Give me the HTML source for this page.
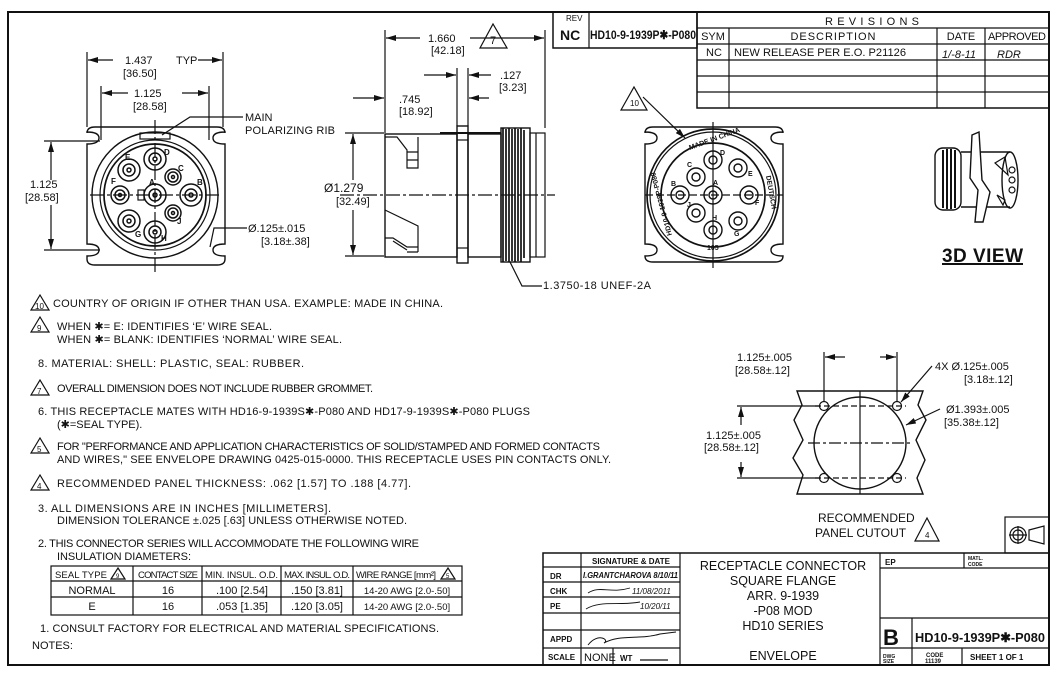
<!DOCTYPE html>
<html><head><meta charset="utf-8"><style>
html,body{margin:0;padding:0;background:#fff}
svg{display:block}
text{font-family:"Liberation Sans",sans-serif;fill:#111}
.t{font-size:11px}
.s{font-size:8px}
.b{font-weight:bold}
</style></head><body>
<svg width="1056" height="676" viewBox="0 0 1056 676" xmlns="http://www.w3.org/2000/svg">
<defs>
<marker id="ar" markerWidth="10" markerHeight="6" refX="10" refY="3" orient="auto" markerUnits="userSpaceOnUse"><path d="M0,0L10,3L0,6z" fill="#111"/></marker>
</defs>
<g fill="none" stroke="#111" stroke-width="1.2">
<rect x="8" y="12" width="1041" height="653" stroke-width="2"/>
<rect x="553" y="12" width="144" height="36" stroke-width="1.5"/>
<line x1="589" y1="12" x2="589" y2="48"/>
<rect x="697" y="12" width="352" height="96" stroke-width="1.5"/>
<line x1="697" y1="28" x2="1049" y2="28"/><line x1="697" y1="44" x2="1049" y2="44"/>
<line x1="697" y1="60" x2="1049" y2="60"/><line x1="697" y1="76" x2="1049" y2="76"/>
<line x1="697" y1="92" x2="1049" y2="92"/>
<line x1="729" y1="28" x2="729" y2="108"/><line x1="937" y1="28" x2="937" y2="108"/><line x1="985" y1="28" x2="985" y2="108"/>

<!-- LEFT FRONT VIEW -->
<path d="M95,127 H217 Q225,127 225,133 V132 Q213,132 213,138 Q213,144 225,144 V244 Q213,244 213,250 Q213,256 225,256 V259 Q225,265 217,265 H95 Q87,265 87,259 V256 Q99,256 99,250 Q99,244 87,244 V144 Q99,144 99,138 Q99,132 87,132 V133 Q87,127 95,127 Z" stroke-width="1.4"/>
<circle cx="155" cy="195" r="63" stroke-width="1.4"/>
<circle cx="155" cy="195" r="55"/>
<circle cx="155" cy="195" r="51" stroke-width="1.7"/>
<rect x="140" y="133" width="30" height="6"/>
<line x1="155" y1="120" x2="155" y2="272" stroke-dasharray="14,3,3,3"/>
<line x1="90" y1="195" x2="222" y2="195" stroke-dasharray="14,3,3,3"/>
<rect x="138" y="190" width="6" height="10"/>
<g stroke-width="1.5">
<circle cx="155" cy="159" r="11"/><circle cx="155" cy="159" r="6"/><circle cx="155" cy="159" r="2"/>
<circle cx="173" cy="177" r="8"/><circle cx="173" cy="177" r="5"/><circle cx="173" cy="177" r="1.5"/>
<circle cx="191" cy="195" r="11"/><circle cx="191" cy="195" r="6"/><circle cx="191" cy="195" r="2"/>
<circle cx="173" cy="213" r="8"/><circle cx="173" cy="213" r="5"/><circle cx="173" cy="213" r="1.5"/>
<circle cx="155" cy="232" r="11"/><circle cx="155" cy="232" r="6"/><circle cx="155" cy="232" r="2"/>
<circle cx="129" cy="221" r="11"/><circle cx="129" cy="221" r="6"/><circle cx="129" cy="221" r="2"/>
<circle cx="120" cy="195" r="9"/><circle cx="120" cy="195" r="5"/><circle cx="120" cy="195" r="1.5"/>
<circle cx="129" cy="170" r="11"/><circle cx="129" cy="170" r="6"/><circle cx="129" cy="170" r="2"/>
<circle cx="155" cy="195" r="11"/><circle cx="155" cy="195" r="6"/><circle cx="155" cy="195" r="2"/>
</g>
<line x1="87" y1="52" x2="87" y2="127"/><line x1="223" y1="52" x2="223" y2="127"/>
<line x1="113" y1="60" x2="88" y2="60" marker-end="url(#ar)"/><line x1="198" y1="60" x2="222" y2="60" marker-end="url(#ar)"/>
<line x1="101" y1="86" x2="101" y2="140"/><line x1="209" y1="86" x2="209" y2="140"/>
<line x1="128" y1="93" x2="102" y2="93" marker-end="url(#ar)"/><line x1="182" y1="93" x2="208" y2="93" marker-end="url(#ar)"/>
<line x1="44" y1="141" x2="100" y2="141"/><line x1="44" y1="250" x2="100" y2="250"/>
<line x1="51" y1="180" x2="51" y2="142" marker-end="url(#ar)"/><line x1="51" y1="205" x2="51" y2="249" marker-end="url(#ar)"/>
<path d="M243,117 H190 L162,135" /><path d="M247,228 H214 L210,247"/>
<!-- SIDE VIEW -->
<rect x="385" y="134" width="72" height="123" stroke-width="1.4"/>
<rect x="457" y="126" width="11" height="137" stroke-width="1.4"/>
<line x1="457" y1="140" x2="468" y2="140"/><line x1="457" y1="248" x2="468" y2="248"/>
<rect x="468" y="134" width="33" height="123" stroke-width="1.4"/>
<line x1="440" y1="133" x2="501" y2="133" stroke-width="2"/>
<rect x="501" y="128" width="29" height="134" stroke-width="1.4"/>
<g stroke-width="1.7"><line x1="503" y1="128" x2="503" y2="262"/><line x1="506" y1="129" x2="506" y2="261"/><line x1="509" y1="128" x2="509" y2="262"/><line x1="512" y1="129" x2="512" y2="261"/><line x1="515" y1="128" x2="515" y2="262"/><line x1="518" y1="129" x2="518" y2="261"/><line x1="521" y1="128" x2="521" y2="262"/><line x1="524" y1="130" x2="524" y2="258"/></g>
<rect x="530" y="133" width="15" height="124"/>
<line x1="536" y1="133" x2="536" y2="257"/>
<path d="M385,137 H397 L407,150 V168 H418 V137 M407,152 H418 M407,160 H418"/>
<path d="M385,210 L418,226 V252 M385,238 H393 L407,247 H418 M393,241 L407,250 M407,252 H418"/>
<line x1="340" y1="195" x2="555" y2="195" stroke-dasharray="14,3,3,3"/>
<line x1="385" y1="30" x2="385" y2="133"/><line x1="545" y1="30" x2="545" y2="128"/>
<line x1="420" y1="38" x2="386" y2="38" marker-end="url(#ar)"/><line x1="470" y1="38" x2="544" y2="38" marker-end="url(#ar)"/>
<line x1="457" y1="68" x2="457" y2="126"/><line x1="468" y1="68" x2="468" y2="126"/>
<line x1="424" y1="75" x2="456" y2="75" marker-end="url(#ar)"/><line x1="491" y1="75" x2="469" y2="75" marker-end="url(#ar)"/>
<line x1="353" y1="98" x2="384" y2="98" marker-end="url(#ar)"/><line x1="489" y1="98" x2="469" y2="98" marker-end="url(#ar)"/>
<line x1="345" y1="133" x2="384" y2="133"/><line x1="345" y1="256" x2="384" y2="256"/>
<line x1="353" y1="180" x2="353" y2="134" marker-end="url(#ar)"/><line x1="353" y1="210" x2="353" y2="255" marker-end="url(#ar)"/>
<path d="M542,286 H522 L510,262"/>
<path d="M480,48 L493,24 L507,48 Z"/>
<!-- RIGHT FRONT VIEW -->
<path d="M653,127 H775 Q783,127 783,133 V132 Q771,132 771,138 Q771,144 783,144 V244 Q771,244 771,250 Q771,256 783,256 V256 Q783,262 775,262 H653 Q645,262 645,256 V256 Q657,256 657,250 Q657,244 645,244 V144 Q657,144 657,138 Q657,132 645,132 V133 Q645,127 653,127 Z" stroke-width="1.4"/>
<circle cx="713" cy="195" r="66" stroke-width="1.7"/>
<circle cx="713" cy="195" r="63"/>
<circle cx="713" cy="195" r="52" stroke-width="1.7"/>
<line x1="713" y1="122" x2="713" y2="268"/><line x1="645" y1="195" x2="783" y2="195" stroke-dasharray="8,3"/>
<g stroke-width="1.4">
<circle cx="713" cy="160" r="9"/><circle cx="713" cy="160" r="4"/>
<circle cx="738" cy="168" r="9"/><circle cx="738" cy="168" r="4"/>
<circle cx="696" cy="177" r="9"/><circle cx="696" cy="177" r="4"/>
<circle cx="680" cy="195" r="9"/><circle cx="680" cy="195" r="4"/>
<circle cx="713" cy="195" r="9"/><circle cx="713" cy="195" r="4"/>
<circle cx="749" cy="195" r="9"/><circle cx="749" cy="195" r="4"/>
<circle cx="696" cy="213" r="9"/><circle cx="696" cy="213" r="4"/>
<circle cx="738" cy="221" r="9"/><circle cx="738" cy="221" r="4"/>
<circle cx="713" cy="230" r="9"/><circle cx="713" cy="230" r="4"/>
</g>
<path d="M621,110 L634,87 L647,110 Z"/>
<line x1="643" y1="97" x2="685" y2="138" marker-end="url(#ar)"/>
<!-- 3D VIEW -->
<rect x="935" y="148" width="26" height="62" rx="8" stroke-width="1.4"/>
<g stroke-width="2"><line x1="943" y1="150" x2="943" y2="208"/><line x1="947" y1="149" x2="947" y2="209"/><line x1="951" y1="149" x2="951" y2="209"/><line x1="955" y1="150" x2="955" y2="208"/></g>
<path d="M961,152 H1010 M961,207 H1010" stroke-width="1.4"/>
<ellipse cx="1010" cy="180" rx="8" ry="28" stroke-width="1.4"/>
<path d="M972,135 L979,132 L982,180 L990,192 L983,222 L975,222 L978,190 L970,178 Z" fill="#fff" stroke-width="1.4"/>
<path d="M995,163 L1005,157 L1008,175 Z M997,195 L1005,200 L1003,205 Z"/>
<circle cx="1012" cy="170" r="3"/><circle cx="1012" cy="180" r="3"/><circle cx="1012" cy="190" r="3"/>
<line x1="942" y1="264" x2="1023" y2="264" stroke-width="2"/>
<!-- PANEL CUTOUT -->
<path d="M797,391 H923 L918,405 L926,420 L916,440 L925,460 L917,478 L923,494 H797 L803,475 L793,458 L803,440 L794,420 L802,405 Z" stroke-width="1.4"/>
<circle cx="860" cy="443" r="46" stroke-width="1.4"/>
<line x1="860" y1="391" x2="860" y2="494"/>
<line x1="808" y1="443" x2="912" y2="443" stroke-dasharray="12,3,3,3"/>
<circle cx="824" cy="406" r="4.5"/><circle cx="897" cy="406" r="4.5"/><circle cx="824" cy="478" r="4.5"/><circle cx="897" cy="478" r="4.5"/>
<line x1="815" y1="406" x2="906" y2="406" stroke-dasharray="6,3"/><line x1="815" y1="478" x2="906" y2="478" stroke-dasharray="6,3"/>
<line x1="824" y1="352" x2="824" y2="402"/><line x1="897" y1="352" x2="897" y2="402"/>
<line x1="845" y1="357" x2="825" y2="357" marker-end="url(#ar)"/><line x1="880" y1="357" x2="896" y2="357" marker-end="url(#ar)"/>
<line x1="737" y1="406" x2="820" y2="406"/><line x1="737" y1="478" x2="820" y2="478"/>
<line x1="741" y1="425" x2="741" y2="407" marker-end="url(#ar)"/><line x1="741" y1="462" x2="741" y2="477" marker-end="url(#ar)"/>
<line x1="932" y1="366" x2="901" y2="402" marker-end="url(#ar)"/>
<line x1="940" y1="409" x2="906" y2="425" marker-end="url(#ar)"/>
<path d="M915,541 L927,518 L939,541 Z"/>
<rect x="1005" y="517" width="44" height="36"/>
<circle cx="1018" cy="535" r="8"/><circle cx="1018" cy="535" r="5"/><line x1="1009" y1="535" x2="1027" y2="535"/><line x1="1018" y1="526" x2="1018" y2="544"/>
<path d="M1029,530 L1044,526 V544 L1029,540 Z"/>
<path d="M31,310 L40,295 L49,310 Z M31,332 L40,317 L49,332 Z M31,395 L40,380 L49,395 Z M31,453 L40,438 L49,453 Z M31,490 L40,475 L49,490 Z"/>
<rect x="51" y="566" width="411" height="49"/>
<line x1="51" y1="581" x2="462" y2="581"/><line x1="51" y1="597" x2="462" y2="597"/>
<line x1="133" y1="566" x2="133" y2="615"/><line x1="202" y1="566" x2="202" y2="615"/><line x1="281" y1="566" x2="281" y2="615"/><line x1="353" y1="566" x2="353" y2="615"/>
<path d="M111,579 L118,568 L125,579 Z M441,579 L448,568 L455,579 Z"/>
<!-- TITLE BLOCK -->
<rect x="543" y="553" width="506" height="112" stroke-width="1.5"/>
<line x1="581" y1="553" x2="581" y2="665"/><line x1="680" y1="553" x2="680" y2="665"/><line x1="880" y1="553" x2="880" y2="665"/>
<line x1="543" y1="567" x2="680" y2="567"/><line x1="543" y1="582" x2="680" y2="582"/><line x1="543" y1="597" x2="680" y2="597"/>
<line x1="543" y1="613" x2="680" y2="613"/><line x1="543" y1="630" x2="680" y2="630"/><line x1="543" y1="648" x2="680" y2="648"/>
<line x1="613" y1="648" x2="613" y2="665"/>
<line x1="880" y1="568" x2="1049" y2="568"/><line x1="964" y1="553" x2="964" y2="568"/>
<line x1="880" y1="618" x2="1049" y2="618"/><line x1="880" y1="648" x2="1049" y2="648"/>
<line x1="912" y1="618" x2="912" y2="665"/><line x1="962" y1="648" x2="962" y2="665"/>
<line x1="640" y1="660" x2="668" y2="660"/>
<path d="M588,645 C598,632 610,640 604,643 C620,634 640,640 660,634 L676,632" stroke-width="1"/>
<path d="M588,593 C600,585 610,594 630,588" stroke-width="0.9"/>
<path d="M586,609 C600,600 620,606 640,602" stroke-width="0.9"/>
</g>

<text class="s" x="566" y="21">REV</text>
<text x="560" y="40" style="font-size:14px" class="b">NC</text>
<text x="590" y="39" style="font-size:12px" class="b" textLength="106" lengthAdjust="spacingAndGlyphs">HD10-9-1939P✱-P080</text>
<text class="t" x="873" y="25" text-anchor="middle" textLength="96" style="letter-spacing:2px">REVISIONS</text>
<text class="t" x="713" y="40" text-anchor="middle">SYM</text>
<text class="t" x="833" y="40" text-anchor="middle" textLength="85">DESCRIPTION</text>
<text class="t" x="961" y="40" text-anchor="middle">DATE</text>
<text class="t" x="1017" y="40" text-anchor="middle" textLength="58">APPROVED</text>
<text class="t" x="706" y="56">NC</text>
<text class="t" x="734" y="56" textLength="172" lengthAdjust="spacingAndGlyphs">NEW RELEASE PER E.O. P21126</text>
<text class="t" x="942" y="58" style="font-style:italic">1/-8-11</text>
<text class="t" x="997" y="58" style="font-style:italic">RDR</text>

<text class="t" x="125" y="64">1.437</text><text class="t" x="176" y="64">TYP</text>
<text class="t" x="123" y="77">[36.50]</text>
<text class="t" x="134" y="97">1.125</text><text class="t" x="133" y="110">[28.58]</text>
<text class="t" x="30" y="188">1.125</text><text class="t" x="25" y="201">[28.58]</text>
<text class="t" x="245" y="121">MAIN</text><text class="t" x="245" y="134" textLength="90">POLARIZING RIB</text>
<text class="t" x="248" y="232">Ø.125±.015</text><text class="t" x="261" y="245">[3.18±.38]</text>
<g class="b" style="font-size:8px">
<text x="164" y="155">D</text><text x="178" y="171">C</text><text x="197" y="185">B</text><text x="177" y="224">J</text><text x="161" y="241">H</text><text x="135" y="237">G</text><text x="111" y="184">F</text><text x="125" y="160">E</text><text x="149" y="185">A</text>
</g>
<text class="t" x="428" y="42">1.660</text><text class="t" x="431" y="54">[42.18]</text>
<text class="t" x="490" y="44">7</text>
<text class="t" x="500" y="79">.127</text><text class="t" x="499" y="91">[3.23]</text>
<text class="t" x="399" y="103">.745</text><text class="t" x="399" y="115">[18.92]</text>
<text class="t" x="324" y="192" style="font-size:12px">Ø1.279</text><text class="t" x="336" y="205">[32.49]</text>
<text class="t" x="543" y="289" textLength="108">1.3750-18 UNEF-2A</text>
<text class="s" x="630" y="106">10</text>
<g style="font-size:7px" class="b">
<text x="690" y="150" transform="rotate(-20 690 150)">MADE IN CHINA</text>
<text x="766" y="176" transform="rotate(80 766 176)">DEUTSCH</text>
<text x="672" y="235" transform="rotate(-105 672 235)">HD10-9-1939P-P080</text>
<text x="707" y="250">105</text>
<text x="720" y="155">D</text><text x="748" y="176">E</text><text x="687" y="167">C</text><text x="671" y="186">B</text><text x="713" y="185">A</text><text x="755" y="205">F</text><text x="687" y="207">J</text><text x="712" y="220">H</text><text x="734" y="236">G</text>
</g>
<text x="942" y="262" style="font-size:19px" class="b" textLength="81">3D  VIEW</text>

<text class="t" x="737" y="361">1.125±.005</text><text class="t" x="735" y="374">[28.58±.12]</text>
<text class="t" x="706" y="439">1.125±.005</text><text class="t" x="704" y="451">[28.58±.12]</text>
<text class="t" x="935" y="370">4X Ø.125±.005</text><text class="t" x="964" y="383">[3.18±.12]</text>
<text class="t" x="946" y="413">Ø1.393±.005</text><text class="t" x="944" y="426">[35.38±.12]</text>
<text class="t" x="818" y="522" style="font-size:12px">RECOMMENDED</text>
<text class="t" x="815" y="537" style="font-size:12px">PANEL CUTOUT</text>
<text class="s" x="925" y="538">4</text>

<g class="t">
<text class="s" x="35" y="309">10</text><text class="s" x="37" y="331">9</text><text class="s" x="37" y="394">7</text><text class="s" x="37" y="452">5</text><text class="s" x="37" y="489">4</text>
<text x="53" y="307" textLength="390">COUNTRY OF ORIGIN IF OTHER THAN USA. EXAMPLE: MADE IN CHINA.</text>
<text x="57" y="330" textLength="215">WHEN ✱= E: IDENTIFIES ‘E’ WIRE SEAL.</text>
<text x="57" y="343" textLength="285">WHEN ✱= BLANK: IDENTIFIES ‘NORMAL’ WIRE SEAL.</text>
<text x="38" y="367" textLength="266">8. MATERIAL: SHELL: PLASTIC, SEAL: RUBBER.</text>
<text x="57" y="392" textLength="316">OVERALL DIMENSION DOES NOT INCLUDE RUBBER GROMMET.</text>
<text x="38" y="415" textLength="492">6. THIS RECEPTACLE MATES WITH HD16-9-1939S✱-P080 AND HD17-9-1939S✱-P080 PLUGS</text>
<text x="57" y="428">(✱=SEAL TYPE).</text>
<text x="57" y="450" textLength="543">FOR "PERFORMANCE AND APPLICATION CHARACTERISTICS OF SOLID/STAMPED AND FORMED CONTACTS</text>
<text x="57" y="463" textLength="554">AND WIRES," SEE ENVELOPE DRAWING 0425-015-0000. THIS RECEPTACLE USES PIN CONTACTS ONLY.</text>
<text x="57" y="487" textLength="354">RECOMMENDED PANEL THICKNESS: .062 [1.57] TO .188 [4.77].</text>
<text x="38" y="512" textLength="293">3. ALL DIMENSIONS ARE IN INCHES [MILLIMETERS].</text>
<text x="57" y="524" textLength="350">DIMENSION TOLERANCE ±.025 [.63] UNLESS OTHERWISE NOTED.</text>
<text x="38" y="547" textLength="381">2. THIS CONNECTOR SERIES WILL ACCOMMODATE THE FOLLOWING WIRE</text>
<text x="57" y="560" textLength="134">INSULATION DIAMETERS:</text>
<text x="40" y="632" textLength="399">1.  CONSULT FACTORY FOR ELECTRICAL AND MATERIAL SPECIFICATIONS.</text>
<text x="32" y="649">NOTES:</text>
</g>
<g style="font-size:9.5px">
<text x="55" y="578" textLength="52">SEAL TYPE</text><text class="s" x="116" y="578" style="font-size:6px">9</text>
<text x="138" y="578" textLength="60">CONTACT SIZE</text>
<text x="205" y="578" textLength="73">MIN. INSUL. O.D.</text>
<text x="284" y="578" textLength="66">MAX. INSUL. O.D.</text>
<text x="356" y="578" textLength="80">WIRE RANGE [mm²]</text><text x="446" y="578" style="font-size:6px">5</text>
</g>
<g class="t" text-anchor="middle">
<text x="92" y="594">NORMAL</text><text x="168" y="594">16</text><text x="242" y="594">.100 [2.54]</text><text x="317" y="594">.150 [3.81]</text><text x="407" y="594" style="font-size:9.5px">14-20 AWG [2.0-.50]</text>
<text x="92" y="610">E</text><text x="168" y="610">16</text><text x="242" y="610">.053 [1.35]</text><text x="317" y="610">.120 [3.05]</text><text x="407" y="610" style="font-size:9.5px">14-20 AWG [2.0-.50]</text>
</g>
<g class="s b">
<text x="592" y="564">SIGNATURE &amp; DATE</text>
<text x="550" y="579">DR</text><text x="550" y="594">CHK</text><text x="550" y="609">PE</text><text x="550" y="642">APPD</text><text x="548" y="660">SCALE</text>
<text x="583" y="578" style="font-style:italic" textLength="95" lengthAdjust="spacingAndGlyphs">I.GRANTCHAROVA 8/10/11</text>
<text x="620" y="661">WT</text>
<text x="885" y="565">EP</text>
<text x="968" y="560" style="font-size:5px">MATL.</text><text x="968" y="566" style="font-size:5px">CODE</text>
<text x="883" y="658" style="font-size:5px">DWG</text><text x="883" y="663" style="font-size:5px">SIZE</text>
<text x="926" y="657" style="font-size:6px">CODE</text><text x="925" y="663" style="font-size:6px">11139</text>
<text x="970" y="660">SHEET 1  OF 1</text>
</g>
<text x="632" y="594" class="s" style="font-style:italic">11/08/2011</text>
<text x="640" y="609" class="s" style="font-style:italic">10/20/11</text>
<text x="584" y="661" class="t">NONE</text>
<g class="t" text-anchor="middle" style="font-size:12.5px">
<text x="783" y="570">RECEPTACLE CONNECTOR</text>
<text x="783" y="585">SQUARE FLANGE</text>
<text x="783" y="600">ARR. 9-1939</text>
<text x="783" y="615">-P08 MOD</text>
<text x="783" y="630">HD10 SERIES</text>
<text x="783" y="660">ENVELOPE</text>
</g>
<text x="883" y="645" style="font-size:22px" class="b">B</text>
<text x="915" y="642" style="font-size:13px" class="b" textLength="130" lengthAdjust="spacingAndGlyphs">HD10-9-1939P✱-P080</text>
</svg>
</body></html>
